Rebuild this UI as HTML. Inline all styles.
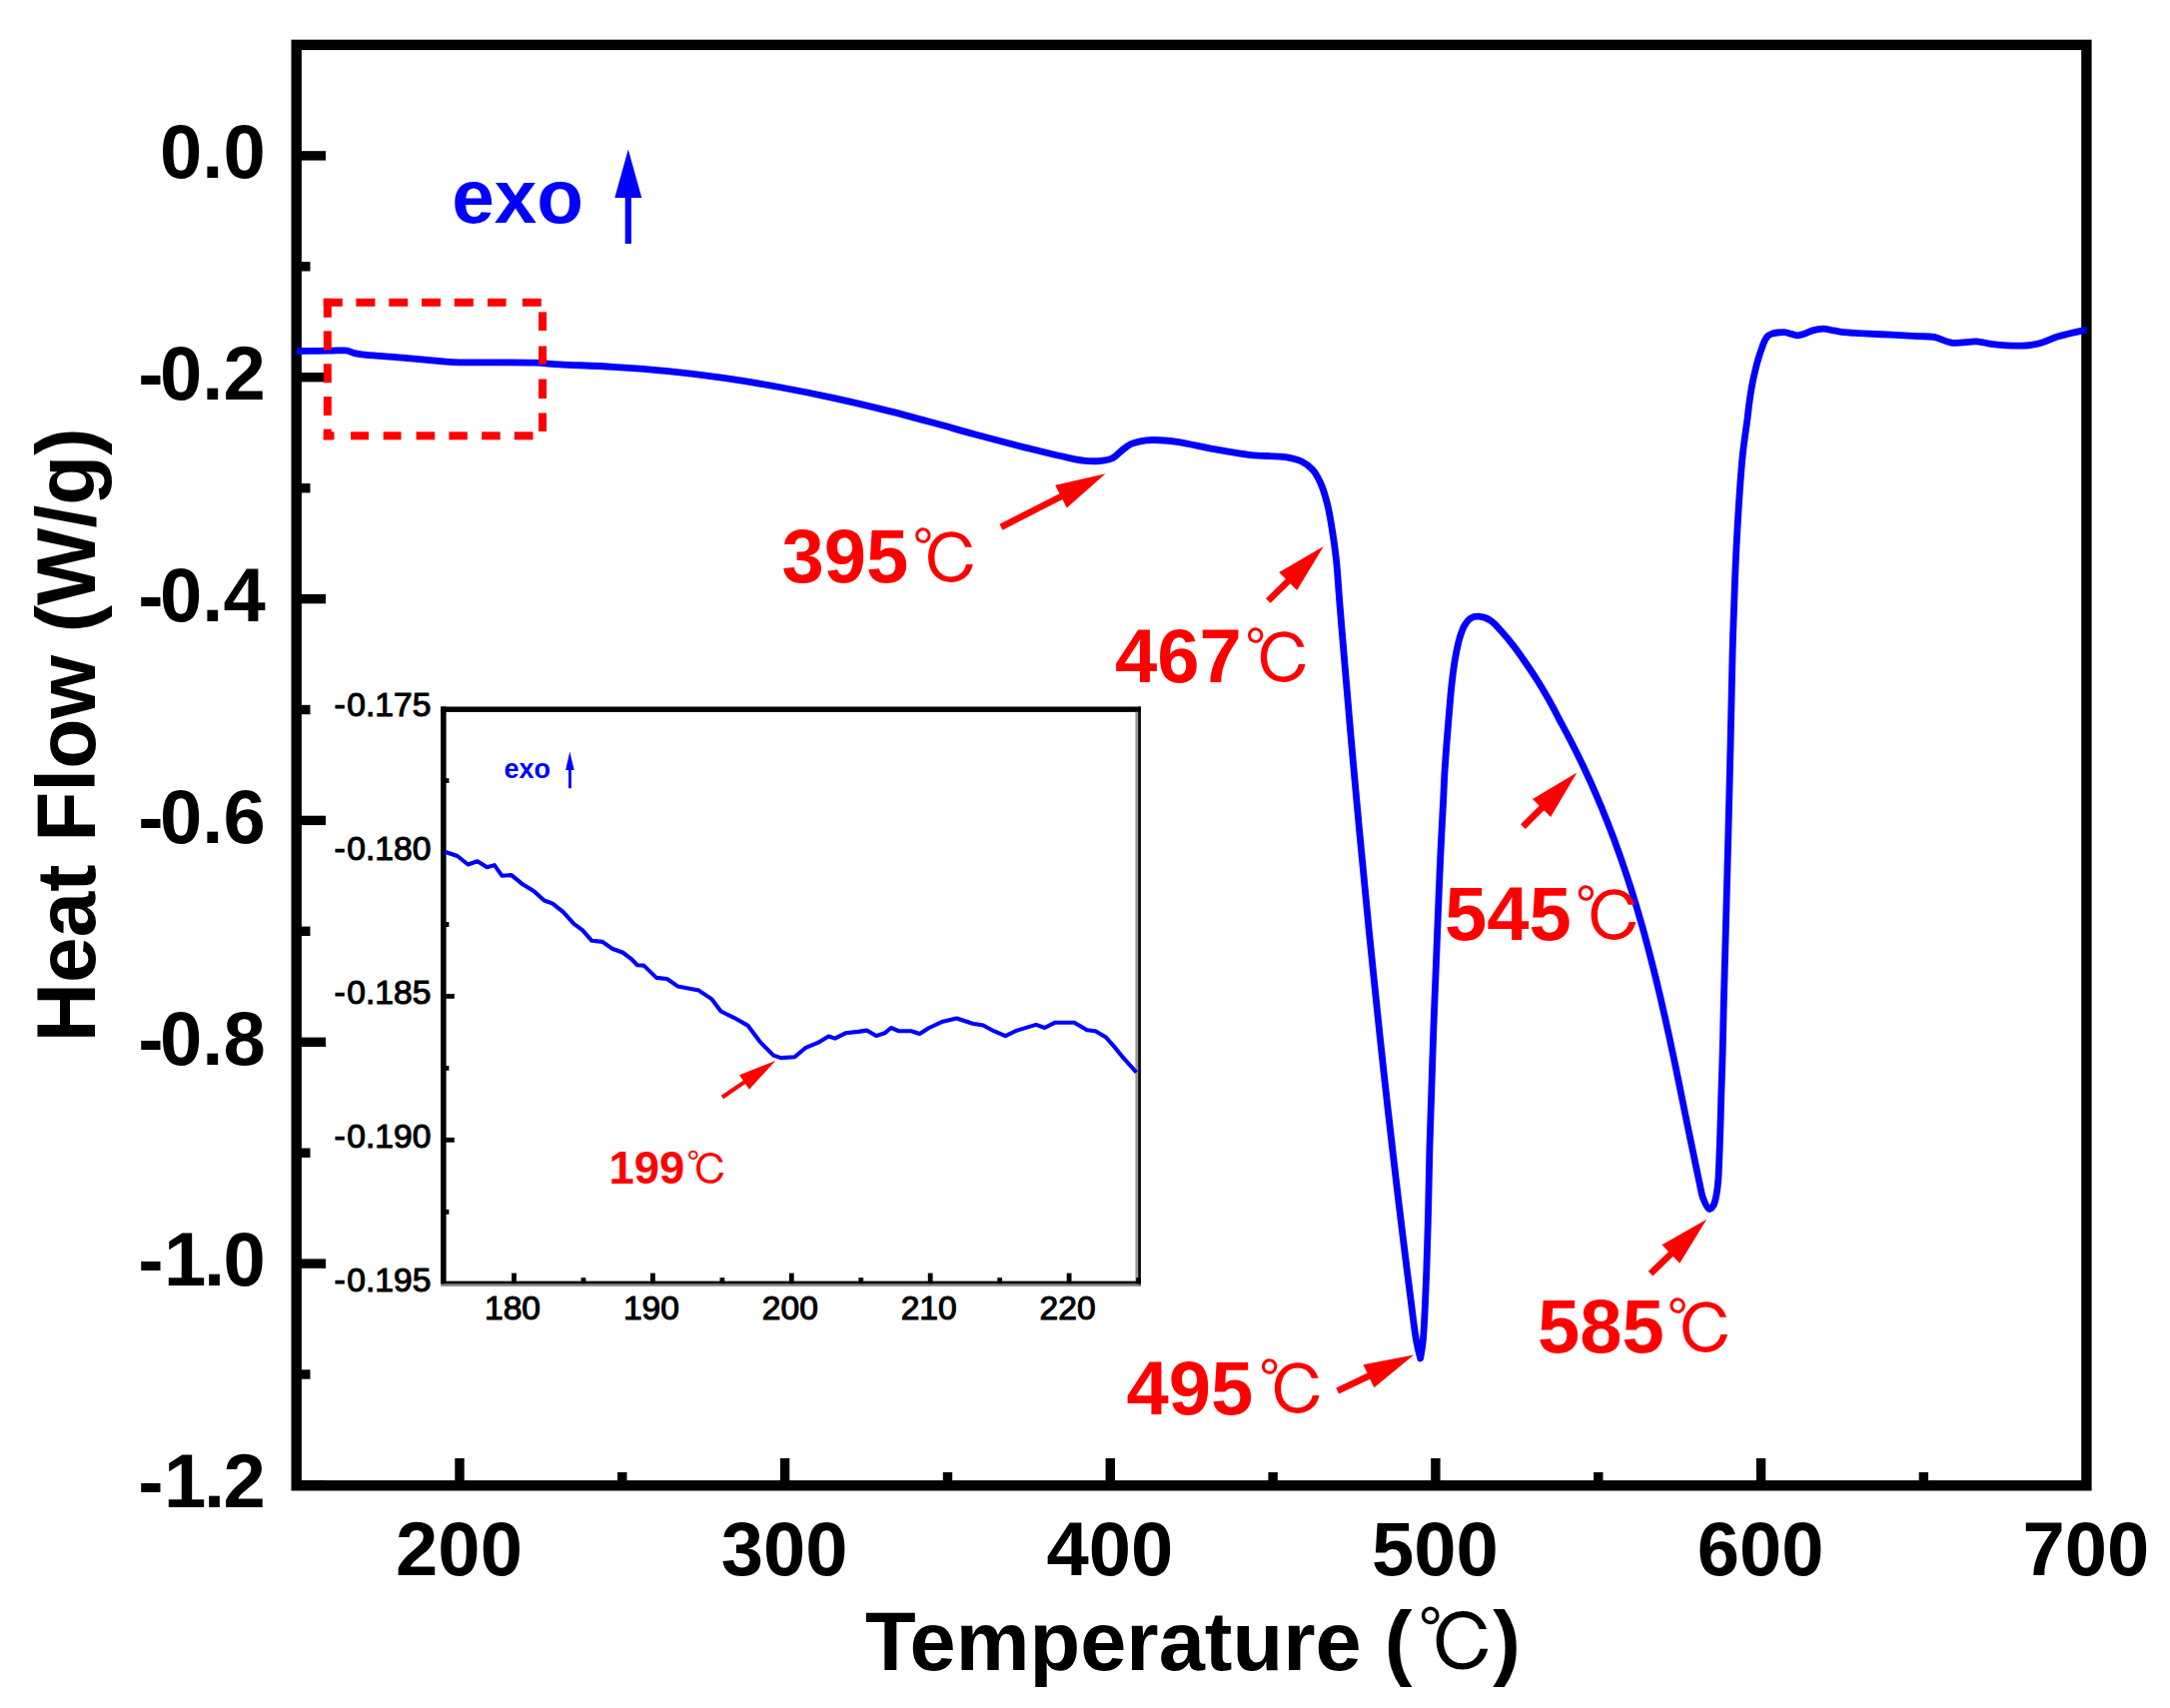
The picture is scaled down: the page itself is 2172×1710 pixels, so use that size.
<!DOCTYPE html>
<html lang="en"><head><meta charset="utf-8"><title>Heat Flow - Temperature</title>
<style>html,body{margin:0;padding:0;background:#fff}svg{display:block}</style></head>
<body>
<svg width="2172" height="1710" viewBox="0 0 2172 1710">
<rect width="2172" height="1710" fill="#fff"/>
<defs><clipPath id="cp"><rect x="296.7" y="44.9" width="1791.7" height="1442.4"/></clipPath>
<clipPath id="cpi"><rect x="444" y="710" width="695.7" height="575.3"/></clipPath></defs>
<rect x="296.7" y="44.9" width="1791.7" height="1442.4" fill="none" stroke="#000" stroke-width="10.4"/>
<rect x="296.7" y="151.2" width="29.3" height="9.4" fill="#000"/>
<rect x="296.7" y="373.0" width="29.3" height="9.4" fill="#000"/>
<rect x="296.7" y="594.9" width="29.3" height="9.4" fill="#000"/>
<rect x="296.7" y="816.7" width="29.3" height="9.4" fill="#000"/>
<rect x="296.7" y="1038.6" width="29.3" height="9.4" fill="#000"/>
<rect x="296.7" y="1260.4" width="29.3" height="9.4" fill="#000"/>
<rect x="296.7" y="1482.2" width="29.3" height="9.4" fill="#000"/>
<rect x="296.7" y="262.1" width="13.8" height="9.4" fill="#000"/>
<rect x="296.7" y="484.0" width="13.8" height="9.4" fill="#000"/>
<rect x="296.7" y="705.8" width="13.8" height="9.4" fill="#000"/>
<rect x="296.7" y="927.6" width="13.8" height="9.4" fill="#000"/>
<rect x="296.7" y="1149.5" width="13.8" height="9.4" fill="#000"/>
<rect x="296.7" y="1371.3" width="13.8" height="9.4" fill="#000"/>
<rect x="455.3" y="1460.0" width="9.4" height="27.3" fill="#000"/>
<rect x="780.9" y="1460.0" width="9.4" height="27.3" fill="#000"/>
<rect x="1106.6" y="1460.0" width="9.4" height="27.3" fill="#000"/>
<rect x="1432.2" y="1460.0" width="9.4" height="27.3" fill="#000"/>
<rect x="1757.9" y="1460.0" width="9.4" height="27.3" fill="#000"/>
<rect x="618.1" y="1474.0" width="9.4" height="13.3" fill="#000"/>
<rect x="943.8" y="1474.0" width="9.4" height="13.3" fill="#000"/>
<rect x="1269.4" y="1474.0" width="9.4" height="13.3" fill="#000"/>
<rect x="1595.1" y="1474.0" width="9.4" height="13.3" fill="#000"/>
<rect x="1920.7" y="1474.0" width="9.4" height="13.3" fill="#000"/>
<g clip-path="url(#cp)" fill="none" stroke="#0000ff" stroke-width="6.8" stroke-linejoin="round">
<path d="M297.00 351.50 C308.00 351.40 321.72 351.38 330.00 351.20 C334.99 351.09 338.86 350.79 342.00 350.80 C344.03 350.81 345.22 350.67 347.00 351.00 C349.17 351.41 351.56 352.77 354.00 353.40 C356.55 354.06 358.50 354.35 362.00 354.80 C368.58 355.65 380.61 356.36 390.60 357.20 C401.58 358.12 414.20 359.14 425.20 360.10 C435.24 360.97 443.58 362.22 454.00 362.70 C466.30 363.27 480.86 362.72 494.30 362.80 C507.76 362.88 522.81 362.77 534.70 363.20 C544.12 363.54 550.00 364.25 560.00 364.80 C574.57 365.60 595.68 366.18 613.70 367.30 C632.01 368.44 650.59 369.75 669.00 371.60 C687.45 373.45 705.89 375.75 724.30 378.40 C742.76 381.05 761.19 384.14 779.60 387.50 C798.09 390.87 816.58 394.59 835.00 398.60 C853.45 402.62 872.49 407.16 890.20 411.60 C906.74 415.74 923.07 420.21 938.00 424.30 C951.22 427.92 961.62 431.11 975.30 434.80 C991.90 439.28 1014.01 444.98 1030.60 449.10 C1044.12 452.46 1057.30 455.74 1067.50 457.90 C1074.67 459.42 1079.74 460.75 1085.90 461.30 C1092.01 461.84 1099.25 461.86 1104.30 461.20 C1107.93 460.72 1110.58 460.30 1113.50 458.80 C1116.79 457.10 1119.66 453.42 1122.80 451.00 C1125.83 448.67 1128.80 446.05 1132.00 444.50 C1134.95 443.07 1137.84 442.46 1141.20 441.80 C1145.11 441.04 1149.14 440.56 1154.10 440.50 C1160.84 440.41 1169.21 441.09 1178.00 442.30 C1189.03 443.81 1202.66 447.48 1215.00 449.70 C1227.26 451.91 1239.65 454.27 1251.80 455.60 C1263.58 456.89 1277.37 456.15 1286.80 457.70 C1293.39 458.78 1298.61 459.88 1303.30 462.20 C1307.42 464.24 1310.83 466.88 1313.80 470.20 C1316.96 473.73 1319.23 478.05 1321.50 483.00 C1324.28 489.07 1326.54 496.64 1328.50 504.30 C1330.71 512.95 1332.20 523.02 1333.70 532.40 C1335.20 541.75 1336.41 550.32 1337.50 560.50 C1338.78 572.53 1339.51 586.41 1340.60 600.00 C1341.77 614.51 1343.05 630.00 1344.30 645.00 C1345.55 660.00 1346.82 674.92 1348.10 690.00 C1349.39 705.25 1350.66 720.59 1352.00 736.00 C1353.36 751.58 1354.78 767.33 1356.20 783.00 C1357.62 798.67 1359.01 814.09 1360.50 830.00 C1362.04 846.41 1363.70 863.33 1365.30 880.00 C1366.90 896.67 1368.45 913.34 1370.10 930.00 C1371.75 946.67 1373.45 963.01 1375.20 980.00 C1377.02 997.65 1378.86 1015.68 1380.80 1034.00 C1382.82 1052.99 1384.94 1072.59 1387.10 1092.00 C1389.28 1111.59 1391.66 1132.45 1393.80 1151.00 C1395.71 1167.56 1397.43 1182.34 1399.30 1198.00 C1401.17 1213.67 1403.01 1228.90 1405.00 1245.00 C1407.10 1262.02 1409.40 1280.58 1411.60 1297.50 C1413.66 1313.34 1415.68 1332.05 1417.80 1343.50 C1419.08 1350.42 1420.40 1354.50 1421.70 1360.00  C1422.53 1354.50 1423.48 1350.40 1424.20 1343.50 C1425.39 1332.03 1426.03 1314.64 1426.80 1297.50 C1427.78 1275.80 1428.62 1248.21 1429.30 1223.70 C1429.98 1199.38 1430.27 1173.90 1430.90 1151.00 C1431.46 1130.49 1432.17 1112.15 1432.80 1092.70 C1433.43 1073.22 1434.00 1053.71 1434.70 1034.20 C1435.40 1014.67 1436.23 995.12 1437.00 975.60 C1437.77 956.09 1438.52 936.61 1439.30 917.10 C1440.08 897.57 1440.80 878.02 1441.70 858.50 C1442.60 838.99 1443.90 816.07 1444.70 800.00 C1445.26 788.75 1445.44 782.03 1446.10 771.30 C1446.95 757.57 1448.38 739.39 1449.60 724.40 C1450.72 710.59 1451.78 696.41 1453.10 684.60 C1454.17 675.09 1455.15 667.02 1456.60 658.90 C1457.93 651.49 1459.46 643.74 1461.30 637.80 C1462.71 633.26 1464.03 629.37 1466.00 626.10 C1467.68 623.31 1469.49 620.58 1471.90 619.10 C1474.20 617.69 1477.07 617.07 1480.00 617.20 C1483.56 617.36 1488.05 618.84 1491.70 621.10 C1495.93 623.72 1499.59 628.63 1503.40 632.80 C1507.40 637.17 1511.29 641.87 1515.10 646.80 C1519.10 651.98 1522.95 657.60 1526.80 663.20 C1530.75 668.93 1534.67 674.70 1538.50 680.80 C1542.51 687.18 1546.45 693.86 1550.30 700.70 C1554.29 707.78 1558.10 715.25 1562.00 722.60 C1565.94 730.02 1569.92 737.38 1573.80 745.00 C1577.79 752.83 1581.72 760.76 1585.60 769.00 C1589.66 777.61 1593.69 786.54 1597.60 795.60 C1601.63 804.93 1605.57 814.43 1609.40 824.20 C1613.37 834.32 1617.22 844.59 1621.00 855.30 C1624.99 866.61 1628.93 878.48 1632.70 890.40 C1636.57 902.66 1640.32 915.18 1643.90 927.90 C1647.57 940.94 1651.26 955.32 1654.40 967.70 C1657.14 978.47 1659.26 987.15 1661.80 998.00 C1664.73 1010.53 1668.19 1026.17 1670.90 1038.60 C1673.20 1049.13 1675.07 1058.05 1677.10 1067.80 C1679.13 1077.55 1681.12 1087.33 1683.10 1097.10 C1685.08 1106.87 1687.00 1116.64 1689.00 1126.40 C1691.00 1136.17 1693.07 1145.93 1695.10 1155.70 C1697.13 1165.47 1699.42 1176.93 1701.20 1185.00 C1702.46 1190.71 1702.88 1195.20 1704.60 1199.60 C1706.17 1203.62 1708.74 1210.08 1710.80 1210.50 C1712.07 1210.76 1713.59 1209.01 1714.60 1207.60 C1715.95 1205.72 1716.55 1202.70 1717.30 1199.60 C1718.29 1195.50 1718.92 1190.72 1719.50 1185.00 C1720.31 1176.93 1720.58 1165.47 1721.00 1155.70 C1721.42 1145.94 1721.70 1136.17 1722.00 1126.40 C1722.30 1116.63 1722.48 1107.85 1722.80 1097.10 C1723.19 1083.94 1723.80 1067.83 1724.20 1053.20 C1724.60 1038.57 1724.77 1026.45 1725.20 1009.30 C1725.81 985.02 1726.80 951.18 1727.60 921.30 C1728.43 890.29 1729.32 857.38 1730.10 826.50 C1730.85 797.01 1731.54 768.53 1732.20 740.00 C1732.84 712.07 1733.24 684.55 1734.00 657.10 C1734.75 629.99 1735.60 602.01 1736.70 576.30 C1737.70 552.81 1738.84 530.09 1740.20 508.90 C1741.41 489.95 1742.63 471.18 1744.30 455.10 C1745.66 441.96 1747.77 429.20 1749.00 419.40 C1749.86 412.54 1750.29 407.73 1751.10 401.90 C1751.92 396.03 1752.85 389.83 1753.90 384.30 C1754.84 379.33 1755.90 374.69 1757.00 370.20 C1758.01 366.05 1759.05 362.13 1760.20 358.30 C1761.29 354.67 1762.56 350.94 1763.70 347.80 C1764.65 345.19 1765.45 342.71 1766.50 340.70 C1767.36 339.06 1768.11 337.60 1769.30 336.50 C1770.48 335.41 1772.02 334.68 1773.60 334.10 C1775.30 333.48 1777.22 333.24 1779.20 333.00 C1781.39 332.74 1783.88 332.47 1786.20 332.70 C1788.55 332.93 1790.93 333.87 1793.20 334.40 C1795.35 334.90 1797.29 335.85 1799.50 335.80 C1801.97 335.75 1804.79 334.54 1807.30 333.70 C1809.72 332.89 1811.69 331.62 1814.30 330.90 C1817.40 330.04 1821.29 329.20 1824.80 329.20 C1828.32 329.20 1831.88 330.32 1835.40 330.90 C1838.91 331.48 1842.39 332.28 1845.90 332.70 C1849.39 333.11 1853.02 333.19 1856.40 333.40 C1859.54 333.59 1861.66 333.70 1865.50 333.90 C1872.09 334.24 1883.43 334.75 1892.40 335.20 C1901.37 335.65 1911.46 336.20 1919.30 336.60 C1925.38 336.91 1929.96 336.41 1935.50 337.40 C1941.60 338.49 1947.55 342.46 1954.30 343.30 C1961.80 344.23 1971.35 341.51 1978.60 341.90 C1984.54 342.22 1988.38 343.94 1994.70 344.60 C2003.61 345.54 2018.19 346.55 2027.10 346.00 C2033.42 345.61 2037.90 344.74 2043.20 343.30 C2048.67 341.81 2053.25 339.01 2059.40 337.10 C2067.17 334.69 2081.44 331.58 2086.30 330.60 C2088.09 330.24 2088.77 330.20 2090.00 330.00"/>
</g>
<g font-family="'Liberation Sans', Arial, sans-serif" font-weight="bold" font-size="76px" fill="#000">
<text x="160.0" y="178.1">0.0</text>
<text x="134.7" y="399.9"><tspan dx="3.5">-</tspan><tspan dx="-3.5">0.2</tspan></text>
<text x="134.7" y="621.8"><tspan dx="3.5">-</tspan><tspan dx="-3.5">0.4</tspan></text>
<text x="134.7" y="843.6"><tspan dx="3.5">-</tspan><tspan dx="-3.5">0.6</tspan></text>
<text x="134.7" y="1065.5"><tspan dx="3.5">-</tspan><tspan dx="-3.5">0.8</tspan></text>
<text x="134.7" y="1287.3"><tspan dx="3.5">-</tspan><tspan dx="0.5">1</tspan><tspan dx="-2.3">.</tspan><tspan dx="-1.7">0</tspan></text>
<text x="134.7" y="1509.1"><tspan dx="3.5">-</tspan><tspan dx="0.5">1</tspan><tspan dx="-2.3">.</tspan><tspan dx="-1.7">2</tspan></text>
<text x="459.5" y="1577" text-anchor="middle">200</text>
<text x="785.1" y="1577" text-anchor="middle">300</text>
<text x="1110.8" y="1577" text-anchor="middle">400</text>
<text x="1436.4" y="1577" text-anchor="middle">500</text>
<text x="1762.1" y="1577" text-anchor="middle">600</text>
<text x="2087.8" y="1577" text-anchor="middle">700</text>
</g>
<text x="866" y="1671.6" font-family="'Liberation Sans', Arial, sans-serif" font-weight="bold" font-size="83px" fill="#000" xml:space="preserve">Temperature (<tspan font-family="'Liberation Sans', 'IPAGothic', 'Noto Sans CJK SC', sans-serif" font-weight="400" font-size="79px" dx="5.5" dy="2.5">℃</tspan><tspan dx="-3.5" dy="-2.5">)</tspan></text>
<text transform="translate(94.7,1043.2) rotate(-90) scale(1,1.026)" font-family="'Liberation Sans', Arial, sans-serif" font-weight="bold" font-size="82px" fill="#000">Heat Flow (W/g)</text>
<g fill="#ff0000">
<rect x="323.8" y="298.8" width="19.0" height="8.0"/>
<rect x="356.4" y="298.8" width="19.0" height="8.0"/>
<rect x="389.3" y="298.8" width="18.9" height="8.0"/>
<rect x="422.1" y="298.8" width="18.9" height="8.0"/>
<rect x="454.8" y="298.8" width="19.0" height="8.0"/>
<rect x="488.0" y="298.8" width="18.6" height="8.0"/>
<rect x="522.9" y="298.8" width="18.9" height="8.0"/>
<rect x="323.8" y="432.3" width="10.7" height="8.0"/>
<rect x="351.1" y="432.3" width="17.9" height="8.0"/>
<rect x="383.7" y="432.3" width="17.8" height="8.0"/>
<rect x="416.6" y="432.3" width="18.6" height="8.0"/>
<rect x="449.4" y="432.3" width="18.4" height="8.0"/>
<rect x="482.2" y="432.3" width="18.5" height="8.0"/>
<rect x="514.8" y="432.3" width="18.7" height="8.0"/>
<rect x="323.8" y="298.8" width="8.0" height="19.0"/>
<rect x="323.8" y="331.4" width="8.0" height="19.0"/>
<rect x="323.8" y="364.3" width="8.0" height="18.9"/>
<rect x="323.8" y="397.1" width="8.0" height="18.9"/>
<rect x="323.8" y="429.6" width="8.0" height="10.7"/>
<rect x="539.1" y="312.4" width="8.0" height="18.7"/>
<rect x="539.1" y="346.5" width="8.0" height="18.0"/>
<rect x="539.1" y="379.5" width="8.0" height="19.5"/>
<rect x="539.1" y="413.5" width="8.0" height="18.4"/>
</g>
<text x="452.2" y="223.2" font-family="'Liberation Sans', Arial, sans-serif" font-weight="bold" font-size="76.5px" fill="#0000ff">exo</text>
<polygon fill="#0000ff" points="631.90,244.00 631.90,197.50 625.70,197.50 625.70,244.00"/><polygon fill="#0000ff" points="628.80,149.50 642.30,198.00 628.80,198.00 615.30,198.00"/>
<polygon fill="#ff0000" points="1003.50,530.64 1063.92,499.76 1060.92,493.89 1000.50,524.76"/><polygon fill="#ff0000" points="1106.50,474.30 1067.78,508.41 1061.98,497.05 1056.17,485.70"/>
<polygon fill="#ff0000" points="1271.61,603.85 1291.83,583.97 1287.20,579.26 1266.99,599.15"/><polygon fill="#ff0000" points="1324.80,546.90 1298.10,591.05 1289.16,581.97 1280.22,572.88"/>
<polygon fill="#ff0000" points="1526.73,829.93 1545.73,810.94 1541.06,806.27 1522.07,825.27"/><polygon fill="#ff0000" points="1578.40,773.60 1552.06,817.97 1543.04,808.96 1534.03,799.94"/>
<polygon fill="#ff0000" points="1340.10,1395.39 1371.79,1380.52 1368.99,1374.54 1337.30,1389.41"/><polygon fill="#ff0000" points="1415.20,1356.50 1375.35,1389.28 1369.94,1377.74 1364.52,1366.20"/>
<polygon fill="#ff0000" points="1654.40,1277.47 1675.03,1257.50 1670.44,1252.76 1649.80,1272.73"/><polygon fill="#ff0000" points="1708.30,1220.70 1681.24,1264.64 1672.37,1255.48 1663.51,1246.31"/>
<text x="782.5" y="583.4" font-family="'Liberation Sans', Arial, sans-serif" font-weight="bold" font-size="76px" fill="#ff0000">395<tspan font-family="'Liberation Sans', 'IPAGothic', 'Noto Sans CJK SC', sans-serif" font-weight="400" font-size="68.5px" dx="3.2" dy="1.8">℃</tspan></text>
<text x="1116.0" y="683.0" font-family="'Liberation Sans', Arial, sans-serif" font-weight="bold" font-size="76px" fill="#ff0000">467<tspan font-family="'Liberation Sans', 'IPAGothic', 'Noto Sans CJK SC', sans-serif" font-weight="400" font-size="68.5px" dx="2.5" dy="1.8">℃</tspan></text>
<text x="1446.0" y="941.0" font-family="'Liberation Sans', Arial, sans-serif" font-weight="bold" font-size="76px" fill="#ff0000">545<tspan font-family="'Liberation Sans', 'IPAGothic', 'Noto Sans CJK SC', sans-serif" font-weight="400" font-size="68.5px" dx="3.2" dy="1.8">℃</tspan></text>
<text x="1127.5" y="1415.6" font-family="'Liberation Sans', Arial, sans-serif" font-weight="bold" font-size="76px" fill="#ff0000">495<tspan font-family="'Liberation Sans', 'IPAGothic', 'Noto Sans CJK SC', sans-serif" font-weight="400" font-size="68.5px" dx="5" dy="1.8">℃</tspan></text>
<text x="1539.0" y="1353.8" font-family="'Liberation Sans', Arial, sans-serif" font-weight="bold" font-size="76px" fill="#ff0000">585<tspan font-family="'Liberation Sans', 'IPAGothic', 'Noto Sans CJK SC', sans-serif" font-weight="400" font-size="68.5px" dx="2" dy="1.8">℃</tspan></text>
<rect x="444.0" y="710.2" width="695.7" height="575.0" fill="#fff"/>
<g fill="#000"><rect x="441.1" y="707.5" width="5.5" height="577.9"/><rect x="441.1" y="707.5" width="700.8" height="5.4"/><rect x="1136.4" y="712.9" width="2.8" height="569.7" fill="#9a9a9a"/><rect x="1139.2" y="707.5" width="2.7" height="580.3"/><rect x="441.1" y="1285.4" width="700.8" height="2.4" fill="#858585"/><rect x="441.1" y="1282.6" width="700.8" height="2.8"/></g>
<rect x="444.0" y="995.0" width="10.8" height="4.8" fill="#000"/>
<rect x="444.0" y="1138.9" width="10.8" height="4.8" fill="#000"/>
<rect x="444.0" y="779.2" width="5.4" height="4.8" fill="#000"/>
<rect x="444.0" y="923.1" width="5.4" height="4.8" fill="#000"/>
<rect x="444.0" y="1067.0" width="5.4" height="4.8" fill="#000"/>
<rect x="444.0" y="1210.9" width="5.4" height="4.8" fill="#000"/>
<rect x="512.1" y="1274.6" width="4.8" height="10.6" fill="#000"/>
<rect x="651.0" y="1274.6" width="4.8" height="10.6" fill="#000"/>
<rect x="789.9" y="1274.6" width="4.8" height="10.6" fill="#000"/>
<rect x="928.8" y="1274.6" width="4.8" height="10.6" fill="#000"/>
<rect x="1067.7" y="1274.6" width="4.8" height="10.6" fill="#000"/>
<rect x="581.6" y="1279.2" width="4.8" height="6.0" fill="#000"/>
<rect x="720.5" y="1279.2" width="4.8" height="6.0" fill="#000"/>
<rect x="859.4" y="1279.2" width="4.8" height="6.0" fill="#000"/>
<rect x="998.3" y="1279.2" width="4.8" height="6.0" fill="#000"/>
<rect x="1137.2" y="1279.2" width="4.8" height="6.0" fill="#000"/>
<polyline clip-path="url(#cpi)" fill="none" stroke="#0000ff" stroke-width="4.1" stroke-linejoin="round" points="445.1,852.8 457.8,857.0 468.4,865.5 477.9,862.3 487.5,868.3 494.9,866.1 502.3,876.7 511.9,876.1 523.5,885.6 534.1,892.0 544.7,901.5 553.2,904.7 563.8,913.2 574.4,924.9 582.9,931.2 592.4,941.8 603.0,942.9 612.6,949.7 623.2,953.5 631.6,959.8 638.0,966.2 644.4,966.6 657.1,978.9 667.7,980.0 678.3,987.4 699.5,991.6 712.2,1000.1 721.6,1012.5 734.5,1018.8 748.8,1026.9 761.5,1043.9 774.2,1056.6 781.6,1059.1 795.4,1058.3 806.0,1049.2 818.7,1043.9 829.3,1037.5 835.7,1039.6 846.3,1034.3 859.0,1032.9 867.5,1031.6 877.0,1037.1 885.5,1034.3 891.9,1029.0 899.3,1032.2 912.0,1032.2 920.5,1035.0 930.0,1029.0 943.8,1022.7 957.6,1019.5 973.5,1024.8 984.1,1026.5 994.7,1032.2 1006.3,1037.1 1018.0,1031.6 1037.1,1025.9 1045.6,1029.0 1056.2,1023.7 1075.2,1023.7 1088.0,1031.2 1096.4,1032.2 1107.0,1038.6 1115.5,1048.1 1124.0,1058.7 1137.5,1073.6"/>
<g font-family="'Liberation Sans', Arial, sans-serif" font-size="33.6px" fill="#000" stroke="#000" stroke-width="1.1">
<text x="431.4" y="717.2" text-anchor="end">-<tspan dx="1.6">0.175</tspan></text>
<text x="431.4" y="861.1" text-anchor="end">-<tspan dx="1.6">0.180</tspan></text>
<text x="431.4" y="1005.0" text-anchor="end">-<tspan dx="1.6">0.185</tspan></text>
<text x="431.4" y="1148.9" text-anchor="end">-<tspan dx="1.6">0.190</tspan></text>
<text x="431.4" y="1292.8" text-anchor="end">-<tspan dx="1.6">0.195</tspan></text>
<text x="513.0" y="1320.6" text-anchor="middle">180</text>
<text x="651.9" y="1320.6" text-anchor="middle">190</text>
<text x="790.8" y="1320.6" text-anchor="middle">200</text>
<text x="929.7" y="1320.6" text-anchor="middle">210</text>
<text x="1068.6" y="1320.6" text-anchor="middle">220</text>
</g>
<text x="504.5" y="778.6" font-family="'Liberation Sans', Arial, sans-serif" font-weight="bold" font-size="27px" fill="#0000ff">exo</text>
<polygon fill="#0000ff" points="571.90,789.19 571.80,770.49 569.00,770.51 569.10,789.21"/><polygon fill="#0000ff" points="570.30,752.50 574.70,770.98 570.40,771.00 566.10,771.02"/>
<polygon fill="#ff0000" points="724.09,1100.33 746.58,1084.87 744.21,1081.41 721.71,1096.87"/><polygon fill="#ff0000" points="776.30,1061.90 749.94,1090.63 744.98,1083.42 740.03,1076.21"/>
<text x="609.5" y="1184.5" font-family="'Liberation Sans', Arial, sans-serif" font-weight="bold" font-size="45.5px" fill="#ff0000">199<tspan font-family="'Liberation Sans', 'IPAGothic', 'Noto Sans CJK SC', sans-serif" font-weight="400" font-size="41.5px" dx="1.5" dy="1.2">℃</tspan></text>
</svg>
</body></html>
